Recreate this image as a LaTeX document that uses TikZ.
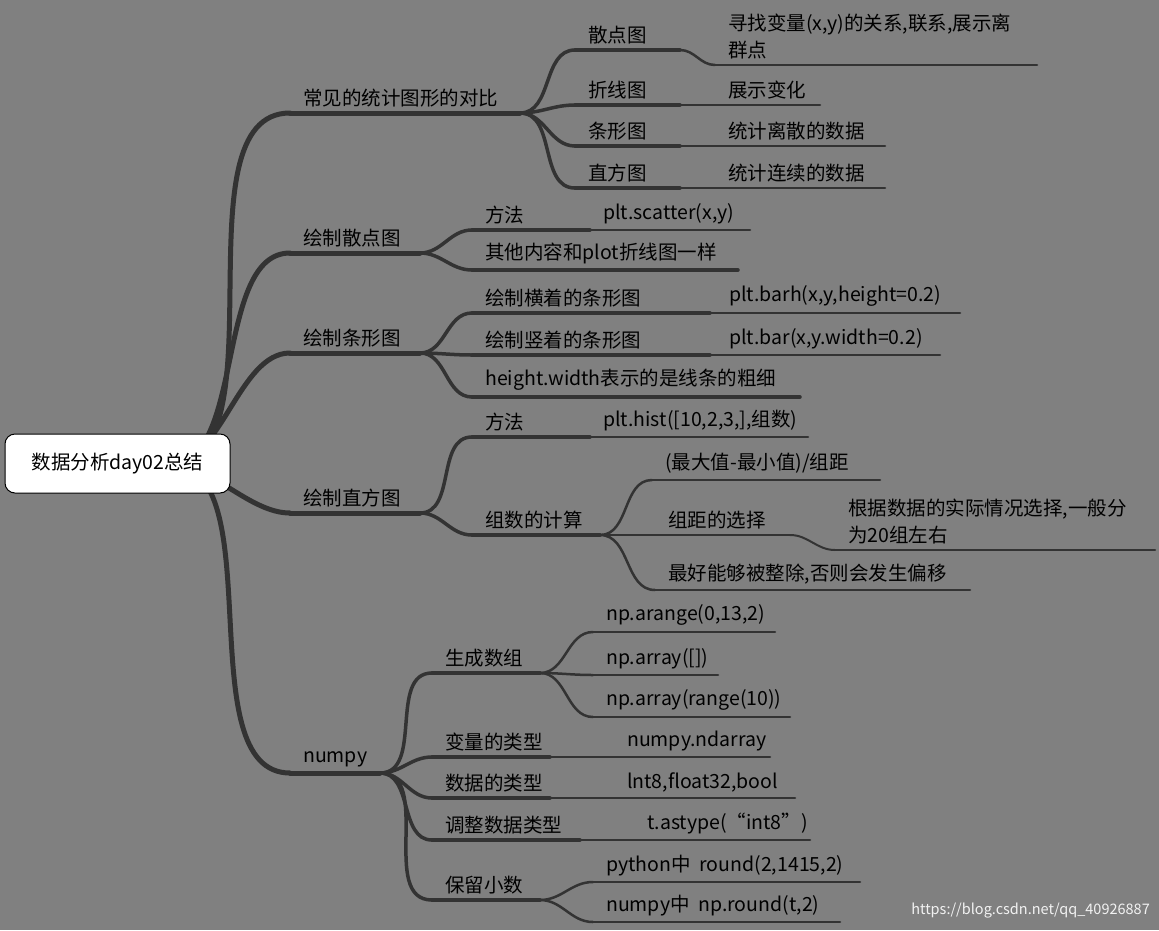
\documentclass[tikz,border=0pt]{standalone}
\usepackage{fontspec}
\setmainfont{Noto Sans CJK SC}
\definecolor{bg}{HTML}{808080}
\definecolor{ln}{HTML}{333333}
\tikzset{x=1pt,y=-1pt,
  lbl/.style={anchor=south west,inner sep=0pt,xshift=13pt,yshift=6pt,align=left,font=\fontsize{19.5}{27}\selectfont,text=black},
  cn/.style={draw=ln,line cap=round,line width=#1},
  rootbox/.style={draw=black,line width=1pt,fill=white,rounded corners=10pt,minimum width=225pt,minimum height=59pt,font=\fontsize{19.5}{22}\selectfont}}
% name, xs, xe, y, width, text
\newcommand\mmitem[6]{%
  \coordinate (#1-s) at (#2,#4);
  \coordinate (#1-e) at (#3,#4);
  \draw[cn=#5] (#1-s) -- (#1-e);
  \node[lbl] (#1) at (#1-s) {#6};}
\newcommand\mmconn[3]{\draw[cn=#3] (#1-e) to[out=0,in=180] (#2-s);}
\begin{document}
\begin{tikzpicture}
\fill[bg] (0,0) rectangle (1159,930);
\useasboundingbox (0,0) rectangle (1159,930);
\coordinate (root-e) at (170,464);
% level 1
\mmitem{a}{290}{520}{113}{5pt}{常见的统计图形的对比}
\mmitem{b}{290}{420}{253}{5pt}{绘制散点图}
\mmitem{c}{290}{420}{353}{5pt}{绘制条形图}
\mmitem{d}{290}{420}{513}{5pt}{绘制直方图}
\mmitem{e}{290}{380}{773}{5pt}{numpy}
\foreach \t in {a,b,c,d,e}{\draw[cn=5pt] (root-e) to[out=0,in=180,looseness=0.8] (\t-s);}
% a
\mmitem{a1}{575}{680}{50}{3.5pt}{散点图}
\mmitem{a2}{575}{680}{105}{3.5pt}{折线图}
\mmitem{a3}{575}{680}{146}{3.5pt}{条形图}
\mmitem{a4}{575}{680}{188}{3.5pt}{直方图}
\foreach \t in {a1,a2,a3,a4}{\mmconn{a}{\t}{3.5pt}}
\mmitem{a1x}{715}{1037}{65}{2.5pt}{寻找变量(x,y)的关系,联系,展示离\\群点}
\mmitem{a2x}{715}{820}{105}{2.5pt}{展示变化}
\mmitem{a3x}{715}{885}{146}{2.5pt}{统计离散的数据}
\mmitem{a4x}{715}{885}{188}{2.5pt}{统计连续的数据}
\foreach \t in {1,2,3,4}{\mmconn{a\t}{a\t x}{2.5pt}}
% b
\mmitem{b1}{472}{590}{230}{3.5pt}{方法}
\mmitem{b2}{472}{738}{270}{3.5pt}{其他内容和plot折线图一样}
\mmconn{b}{b1}{3.5pt}\mmconn{b}{b2}{3.5pt}
\mmitem{b1x}{590}{750}{230}{2.5pt}{plt.scatter(x,y)}
\mmconn{b1}{b1x}{2.5pt}
% c
\mmitem{c1}{472}{710}{313}{3.5pt}{绘制横着的条形图}
\mmitem{c2}{472}{710}{355}{3.5pt}{绘制竖着的条形图}
\mmitem{c3}{472}{800}{397}{3.5pt}{height.width表示的是线条的粗细}
\foreach \t in {c1,c2,c3}{\mmconn{c}{\t}{3.5pt}}
\mmitem{c1x}{716}{960}{313}{2.5pt}{plt.barh(x,y,height=0.2)}
\mmitem{c2x}{716}{940}{355}{2.5pt}{plt.bar(x,y.width=0.2)}
\mmconn{c1}{c1x}{2.5pt}\mmconn{c2}{c2x}{2.5pt}
% d
\mmitem{d1}{472}{590}{437}{3.5pt}{方法}
\mmitem{d2}{472}{600}{535}{3.5pt}{组数的计算}
\mmconn{d}{d1}{3.5pt}\mmconn{d}{d2}{3.5pt}
\mmitem{d1x}{590}{808}{437}{2.5pt}{plt.hist([10,2,3,],组数)}
\mmconn{d1}{d1x}{2.5pt}
\mmitem{d21}{652}{880}{480}{2.5pt}{(最大值-最小值)/组距}
\mmitem{d22}{655}{790}{535}{2.5pt}{组距的选择}
\mmitem{d23}{655}{970}{590}{2.5pt}{最好能够被整除,否则会发生偏移}
\foreach \t in {d21,d22,d23}{\mmconn{d2}{\t}{2.5pt}}
\mmitem{d22x}{835}{1155}{550}{2pt}{根据数据的实际情况选择,一般分\\为20组左右}
\mmconn{d22}{d22x}{2pt}
% e
\mmitem{e1}{432}{540}{673}{3.5pt}{生成数组}
\mmitem{e2}{432}{550}{757}{3.5pt}{变量的类型}
\mmitem{e3}{432}{550}{798}{3.5pt}{数据的类型}
\mmitem{e4}{432}{580}{840}{3.5pt}{调整数据类型}
\mmitem{e5}{432}{540}{900}{3.5pt}{保留小数}
\foreach \t in {e1,e2,e3,e4,e5}{\mmconn{e}{\t}{3.5pt}}
\mmitem{e11}{593}{775}{632}{2.5pt}{np.arange(0,13,2)}
\mmitem{e12}{593}{718}{675}{2.5pt}{np.array([])}
\mmitem{e13}{593}{790}{717}{2.5pt}{np.array(range(10))}
\foreach \t in {e11,e12,e13}{\mmconn{e1}{\t}{2.5pt}}
\mmitem{e2x}{614}{770}{757}{2.5pt}{numpy.ndarray}
\mmitem{e3x}{614}{795}{798}{2.5pt}{lnt8,float32,bool}
\mmitem{e4x}{634}{810}{840}{2.5pt}{t.astype(“int8”)}
\foreach \t in {2,3,4}{\mmconn{e\t}{e\t x}{2.5pt}}
\mmitem{e51}{593}{860}{882}{2.5pt}{python中\ \ round(2,1415,2)}
\mmitem{e52}{593}{840}{922}{2.5pt}{numpy中\ \ np.round(t,2)}
\mmconn{e5}{e51}{2.5pt}\mmconn{e5}{e52}{2.5pt}
% root
\node[rootbox] (root) at (117.5,463.5) {数据分析day02总结};
\node[anchor=south east,inner sep=0pt,text=white!90!gray,font=\fontsize{14.5}{16}\selectfont] (wm) at (1150,918) {https://blog.csdn.net/qq\_40926887};
\end{tikzpicture}
\end{document}
